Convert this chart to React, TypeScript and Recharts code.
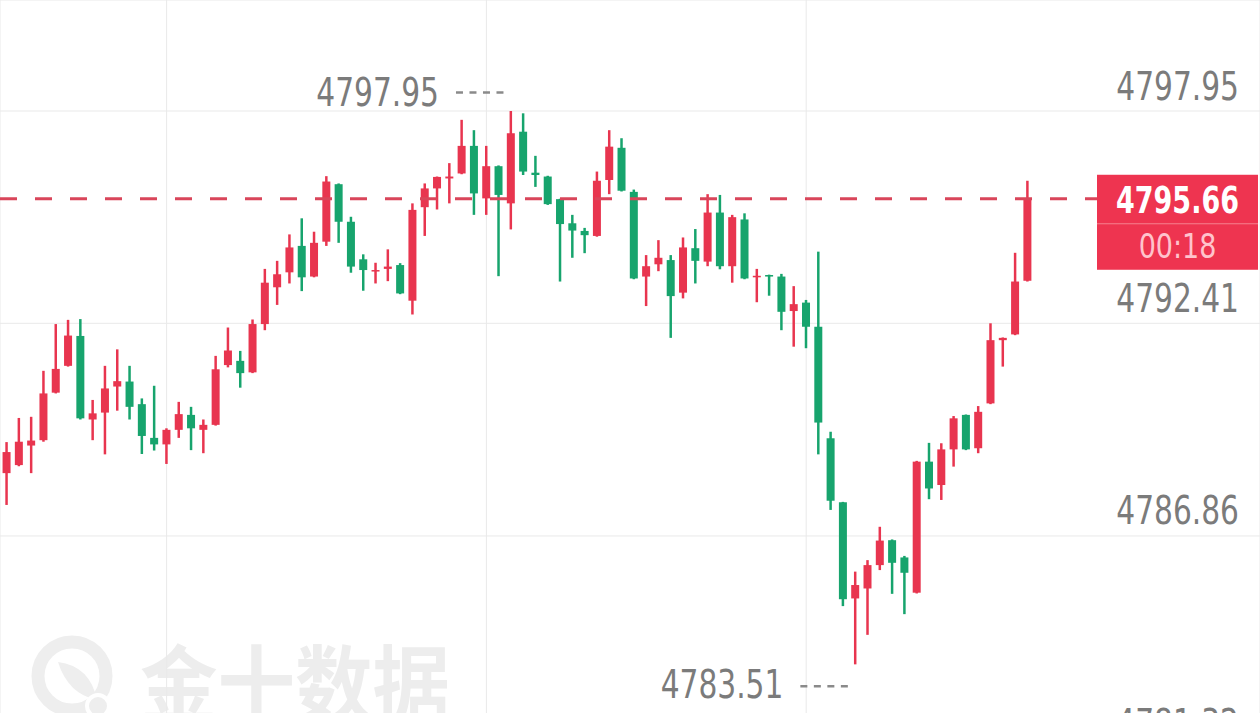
import { ComposedChart, Bar, XAxis, YAxis, CartesianGrid, ReferenceLine, ReferenceDot } from 'recharts'

// 1-minute candles, oldest first
const opens = [
  4788.50, 4788.71, 4789.22, 4789.36, 4790.60, 4791.30, 4792.08, 4789.90, 4790.08, 4790.76,
  4790.89, 4790.30, 4789.42, 4789.25, 4789.63, 4790.02, 4789.63, 4789.76, 4791.32, 4791.43,
  4791.13, 4792.39, 4793.35, 4793.74, 4794.43, 4793.63, 4794.54, 4796.04, 4795.06, 4794.08,
  4793.77, 4793.83, 4793.93, 4793.00, 4795.44, 4795.93, 4796.19, 4796.32, 4797.04, 4795.67,
  4796.51, 4795.54, 4797.41, 4796.34, 4796.24, 4795.65, 4795.02, 4794.82, 4794.69, 4796.15,
  4796.99, 4795.84, 4793.63, 4793.95, 4794.06, 4793.21, 4794.37, 4794.02, 4795.30, 4793.90,
  4795.12, 4793.61, 4793.67, 4793.63, 4792.73, 4792.95, 4792.32, 4789.41, 4787.74, 4785.23,
  4785.49, 4786.10, 4786.75, 4786.30, 4785.38, 4788.80, 4788.19, 4789.12, 4790.02, 4789.15,
  4790.32, 4791.97, 4792.12, 4793.52,
]
const highs = [
  4789.31, 4789.94, 4789.97, 4791.17, 4792.39, 4792.50, 4792.52, 4790.41, 4791.30, 4791.73,
  4791.30, 4790.45, 4790.78, 4789.67, 4790.36, 4790.23, 4789.90, 4791.56, 4792.30, 4791.69,
  4792.51, 4793.83, 4794.04, 4794.73, 4795.15, 4794.80, 4796.25, 4796.06, 4795.19, 4794.21,
  4793.99, 4794.34, 4793.98, 4795.54, 4796.06, 4796.24, 4796.59, 4797.72, 4797.45, 4797.04,
  4796.53, 4797.95, 4797.89, 4796.78, 4796.26, 4795.66, 4795.24, 4794.90, 4796.37, 4797.45,
  4797.24, 4795.90, 4794.19, 4794.58, 4794.19, 4794.65, 4794.87, 4795.78, 4795.76, 4795.24,
  4795.28, 4793.83, 4793.68, 4793.70, 4793.38, 4793.02, 4794.28, 4789.58, 4787.75, 4785.93,
  4786.23, 4787.10, 4786.77, 4786.34, 4788.82, 4789.29, 4789.28, 4789.99, 4790.03, 4790.25,
  4792.41, 4792.04, 4794.25, 4796.13,
]
const lows = [
  4787.67, 4788.68, 4788.50, 4789.32, 4790.58, 4791.28, 4789.90, 4789.36, 4788.99, 4790.13,
  4789.90, 4789.00, 4789.09, 4788.74, 4789.42, 4789.10, 4789.02, 4789.74, 4791.26, 4790.73,
  4791.11, 4792.23, 4792.89, 4793.45, 4793.25, 4793.61, 4794.43, 4794.51, 4793.73, 4793.26,
  4793.45, 4793.51, 4793.17, 4792.64, 4794.69, 4795.38, 4795.54, 4796.30, 4795.24, 4795.24,
  4793.64, 4794.86, 4796.28, 4795.97, 4795.50, 4793.50, 4794.12, 4794.24, 4794.67, 4795.78,
  4795.85, 4793.56, 4792.86, 4793.77, 4792.03, 4793.06, 4793.45, 4793.90, 4793.82, 4793.47,
  4793.56, 4792.96, 4793.13, 4792.23, 4791.80, 4791.76, 4788.99, 4787.54, 4785.03, 4783.51,
  4784.28, 4785.97, 4785.35, 4784.82, 4785.36, 4787.82, 4787.80, 4788.67, 4789.10, 4789.02,
  4790.30, 4791.28, 4792.10, 4793.50,
]
const closes = [
  4789.05, 4789.32, 4789.35, 4790.58, 4791.22, 4792.09, 4789.93, 4790.06, 4790.71, 4790.90,
  4790.23, 4789.47, 4789.25, 4789.63, 4790.04, 4789.67, 4789.76, 4791.21, 4791.70, 4791.11,
  4792.39, 4793.47, 4793.69, 4794.39, 4793.61, 4794.51, 4796.11, 4795.06, 4793.89, 4793.80,
  4793.80, 4793.89, 4793.19, 4795.37, 4795.93, 4796.23, 4796.24, 4797.04, 4795.80, 4796.51,
  4795.76, 4797.37, 4796.37, 4796.28, 4795.52, 4795.00, 4794.83, 4794.71, 4796.13, 4797.02,
  4795.87, 4793.58, 4793.90, 4794.12, 4793.12, 4794.39, 4794.04, 4795.30, 4793.90, 4795.18,
  4793.58, 4793.65, 4793.63, 4792.71, 4792.91, 4792.32, 4789.82, 4787.78, 4785.21, 4785.58,
  4786.10, 4786.74, 4786.16, 4785.90, 4788.80, 4788.10, 4789.12, 4789.93, 4789.12, 4790.10,
  4791.97, 4792.03, 4793.50, 4795.66,
]

const priceGrid = [4797.95, 4792.41, 4786.86, 4781.32]
const timeGrid = [13, 39, 65] // candle index of vertical grid lines
const lastPrice = 4795.66
const countdown = '00:18'
const watermark = '金十数据'

const W = 1260
const H = 760
const xDomain = [-0.545, 101.9]
const yDomain = [4781.014, 4800.847]

const RED = '#E8354F'
const GREEN = '#17A46D'
const GRID = '#e9e9e9'
const LABEL = '#7b7b7b'
const FONT = "'DejaVu Sans Condensed', 'DejaVu Sans', sans-serif"

const candles = opens.map((open, i) => ({
  i,
  open,
  high: highs[i],
  low: lows[i],
  close: closes[i],
}))

const hiIdx = highs.indexOf(Math.max(...highs))
const loIdx = lows.indexOf(Math.min(...lows))

function Candle(props: any) {
  const { x, y, width, height, payload } = props
  if (!payload || height == null) return null
  const { open, close, high, low } = payload
  const color = close >= open ? RED : GREEN
  const k = height / (high - low)
  const cx = x + width / 2
  const top = y + (high - Math.max(open, close)) * k
  const bot = y + (high - Math.min(open, close)) * k
  return (
    <g>
      <line x1={cx} x2={cx} y1={y} y2={y + height} stroke={color} strokeWidth={2.5} />
      <rect x={x} y={top} width={width} height={Math.max(bot - top, 1.5)} fill={color} />
    </g>
  )
}

// DIN-like tall digits: condensed font stretched vertically
function TallText({ x, y, sy, children, ...rest }: any) {
  return (
    <text transform={`translate(${x} ${y}) scale(1 ${sy})`} x={0} y={0} fontFamily={FONT} {...rest}>
      {children}
    </text>
  )
}

function GridLabel({ viewBox, text }: any) {
  if (!viewBox) return null
  return (
    <TallText x={viewBox.x + viewBox.width - 21} y={viewBox.y - 11.5} sy={1.19} textAnchor="end" fill={LABEL} fontSize={33}>
      {text}
    </TallText>
  )
}

function PriceTag({ viewBox }: any) {
  if (!viewBox) return null
  const right = viewBox.x + viewBox.width - 2
  const left = right - 161
  const cy = viewBox.y
  const mid = (left + right) / 2
  return (
    <g>
      <rect x={left} y={cy - 24} width={161} height={95} fill="#EE3450" />
      <line x1={left} x2={right} y1={cy + 25} y2={cy + 25} stroke="#F6808F" strokeWidth={1} />
      <TallText x={mid} y={cy + 14} sy={1.22} textAnchor="middle" fill="#fff" fontSize={30} fontWeight={700}>
        {lastPrice.toFixed(2)}
      </TallText>
      <TallText x={mid} y={cy + 59} sy={1.14} textAnchor="middle" fill="#FFC3CC" fontSize={30}>
        {countdown}
      </TallText>
    </g>
  )
}

function ExtremeMark({ cx, cy, text, below }: any) {
  if (cx == null) return null
  const lineY = below ? cy + 22 : cy - 18.5
  const baseY = below ? cy + 34 : cy - 5.5
  return (
    <g>
      <TallText x={cx - 72} y={baseY} sy={1.19} textAnchor="end" fill={LABEL} fontSize={33}>
        {text}
      </TallText>
      <line x1={cx - 55} x2={cx - 6} y1={lineY} y2={lineY} stroke="#8a8a8a" strokeWidth={2.5} strokeDasharray="7 6.5" />
    </g>
  )
}

function Watermark() {
  return (
    <svg width={W} height={713} style={{ position: 'absolute', left: 0, top: 0 }}>
      <circle cx={72} cy={676} r={34} fill="none" stroke="#eeeeee" strokeWidth={13} />
      <path d="M 58 662 Q 90 666 97 700 Q 68 694 58 662 Z" fill="#eeeeee" />
      <circle cx={98} cy={706} r={11} fill="#eeeeee" stroke="#fff" strokeWidth={4} />
      <text
        x={140}
        y={716}
        fill="#ededed"
        fontSize={84}
        fontWeight={700}
        fontFamily="'Noto Sans CJK SC', sans-serif"
        textLength={310}
        lengthAdjust="spacingAndGlyphs"
      >
        {watermark}
      </text>
    </svg>
  )
}

export default function App() {
  return (
    <div style={{ position: 'relative', width: W, height: 713, overflow: 'hidden', background: '#fff' }}>
      <style>{'body{margin:0}'}</style>
      <Watermark />
      <div style={{ position: 'absolute', left: 0, top: 0 }}>
        <ComposedChart width={W} height={H} data={candles} margin={{ top: 0, right: 0, bottom: 0, left: 0 }}>
          <CartesianGrid stroke={GRID} />
          <XAxis type="number" dataKey="i" domain={xDomain} ticks={timeGrid} hide allowDataOverflow />
          <YAxis type="number" domain={yDomain} ticks={priceGrid} hide allowDataOverflow />
          {priceGrid.map((v) => (
            <ReferenceLine
              key={v}
              y={v}
              stroke="none"
              label={(p: any) => <GridLabel {...p} text={v.toFixed(2)} />}
            />
          ))}
          <Bar
            dataKey={(d: any) => [d.low, d.high]}
            barSize={8}
            shape={(p: any) => <Candle {...p} />}
            isAnimationActive={false}
          />
          <ReferenceLine y={lastPrice} stroke="#D9455A" strokeWidth={3} strokeDasharray="17 18" />
          <ReferenceLine y={lastPrice} stroke="none" label={(p: any) => <PriceTag {...p} />} />
          <ReferenceDot
            x={hiIdx}
            y={highs[hiIdx]}
            r={0}
            shape={(p: any) => <ExtremeMark {...p} text={highs[hiIdx].toFixed(2)} />}
          />
          <ReferenceDot
            x={loIdx}
            y={lows[loIdx]}
            r={0}
            shape={(p: any) => <ExtremeMark {...p} text={lows[loIdx].toFixed(2)} below />}
          />
        </ComposedChart>
      </div>
    </div>
  )
}
